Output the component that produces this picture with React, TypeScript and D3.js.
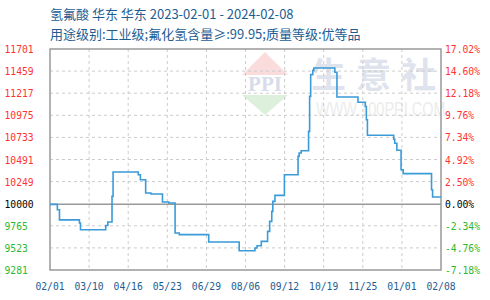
import React from "react";
import * as d3 from "d3";

// Daily ex-works price of hydrofluoric acid (East China), step changes only
const priceDates = [
  "2023-02-01", "2023-02-08", "2023-02-10", "2023-03-01", "2023-03-02", "2023-03-26",
  "2023-03-28", "2023-04-01", "2023-04-02", "2023-04-26", "2023-04-28", "2023-05-03",
  "2023-05-08", "2023-05-19", "2023-05-25", "2023-05-31", "2023-06-04", "2023-07-02",
  "2023-07-31", "2023-08-15", "2023-08-17", "2023-08-21", "2023-08-27", "2023-08-29",
  "2023-08-31", "2023-09-01", "2023-09-03", "2023-09-12", "2023-09-25", "2023-09-26",
  "2023-09-28", "2023-10-05", "2023-10-06", "2023-10-07", "2023-10-09", "2023-10-10",
  "2023-10-30", "2023-11-01", "2023-11-21", "2023-11-28", "2023-11-29", "2023-11-30",
  "2023-12-25", "2023-12-26", "2023-12-28", "2024-01-01", "2024-01-03", "2024-01-30",
  "2024-01-31", "2024-02-08",
];
const priceValues = [
  10000, 9941, 9830, 9796, 9722, 9769,
  9807, 10087, 10354, 10324, 10270, 10124,
  10113, 10026, 10015, 9686, 9668, 9588,
  9492, 9522, 9547, 9594, 9704, 9813,
  9923, 10032, 10098, 10324, 10525, 10562,
  10587, 10799, 11182, 11420, 11467, 11493,
  11447, 11175, 11118, 11072, 10927, 10757,
  10713, 10669, 10593, 10379, 10336, 10160,
  10080, 10080,
];

const dateRange = ["2023-02-01", "2024-02-08"];
const yTickValues = [9281, 9523, 9765, 10000, 10249, 10491, 10733, 10975, 11217, 11459, 11701];
const yTickPercents = ["-7.18%", "-4.76%", "-2.34%", "0.00%", "2.50%", "4.92%", "7.34%", "9.76%", "12.18%", "14.60%", "17.02%"];
const xTickLabels = ["02/01", "03/10", "04/16", "05/23", "06/29", "08/06", "09/12", "10/19", "11/25", "01/01", "02/08"];
const baseValue = 10000;

const titleLine1 = "氢氟酸 华东 华东 2023-02-01 - 2024-02-08";
const titleLine2 = "用途级别:工业级;氟化氢含量≥:99.95;质量等级:优等品";

const W = 490;
const H = 300;
const left = 50;
const right = 441;
const top = 49;
const bottom = 270;

const parse = d3.utcParse("%Y-%m-%d");

export default function App() {
  const x = d3.scaleUtc().domain(dateRange.map((d) => parse(d) as Date)).range([left, right]);
  const y = d3.scaleLinear().domain([yTickValues[0], yTickValues[yTickValues.length - 1]]).range([bottom, top]);
  const xPos = d3.scalePoint<string>().domain(xTickLabels).range([left, right]);

  const data = priceDates.map((d, i) => ({ date: parse(d) as Date, value: priceValues[i] }));
  const line = d3
    .line<{ date: Date; value: number }>()
    .x((d) => x(d.date))
    .y((d) => y(d.value))
    .curve(d3.curveStepAfter);

  const tickColor = (v: number) => (v > baseValue ? "#ff3333" : v < baseValue ? "#2eb82e" : "#000000");
  const mono = "'DejaVu Sans Mono', monospace";

  return (
    <svg width={W} height={H} style={{ position: "absolute", left: 0, top: 0, background: "#fff" }}>
      {/* watermark */}
      <g>
        <polygon points="265,52 288,75 242,75" fill="#fbdcdc" />
        <polygon points="242,95 288,95 265,115" fill="#dcf0dc" />
        <text x={265} y={91} textAnchor="middle" fontFamily="'Liberation Serif', serif" fontWeight="bold" fontSize={21} fill="#d6dcea">PPI</text>
        <text x={311} y={88} fontFamily="'Noto Sans CJK SC', sans-serif" fontWeight="bold" fontSize={35} fill="#dfe3ed" letterSpacing={10}>生意社</text>
        <text transform="translate(316,116) scale(1,1.45)" x={0} y={0} fontFamily="'Liberation Sans', sans-serif" fontSize={14.5} fill="#ececec">WWW.100PPI.COM</text>
      </g>

      {/* title */}
      <text x={50} y={18.5} fontFamily="'Noto Sans CJK SC', sans-serif" fontSize={13} fill="#1d5d92">{titleLine1}</text>
      <text x={50} y={38.5} fontFamily="'Noto Sans CJK SC', sans-serif" fontSize={13} fill="#1d5d92">{titleLine2}</text>

      {/* grid */}
      {yTickValues.filter((v) => v !== baseValue && v !== yTickValues[0] && v !== yTickValues[yTickValues.length - 1]).map((v) => (
        <line key={"gy" + v} x1={left} x2={right} y1={y(v)} y2={y(v)} stroke="#cccccc" strokeDasharray="3,3" />
      ))}
      {xTickLabels.slice(1, -1).map((t) => (
        <line key={"gx" + t} x1={xPos(t)} x2={xPos(t)} y1={top} y2={bottom} stroke="#cccccc" strokeDasharray="3,3" />
      ))}

      {/* base line */}
      <line x1={left} x2={right} y1={y(baseValue)} y2={y(baseValue)} stroke="#999999" strokeWidth={1.5} />

      {/* frame */}
      <rect x={left} y={top} width={right - left} height={bottom - top} fill="none" stroke="#999999" strokeWidth={1.5} />

      {/* series */}
      <path d={line(data) ?? ""} fill="none" stroke="#3a9bd8" strokeWidth={1.6} />

      {/* left axis */}
      {yTickValues.map((v) => (
        <text key={"ly" + v} x={4.5} y={y(v) + 4} fontFamily={mono} fontSize={9.7} fill={tickColor(v)}>{v}</text>
      ))}
      {/* right axis */}
      {yTickValues.map((v, i) => (
        <text key={"ry" + v} x={445} y={y(v) + 4} fontFamily={mono} fontSize={9.7} fill={tickColor(v)}>{yTickPercents[i]}</text>
      ))}
      {/* bottom axis */}
      {xTickLabels.map((t) => (
        <text key={"xt" + t} x={xPos(t)} y={290} textAnchor="middle" fontFamily={mono} fontSize={9.7} fill="#1d5d92">{t}</text>
      ))}
    </svg>
  );
}
